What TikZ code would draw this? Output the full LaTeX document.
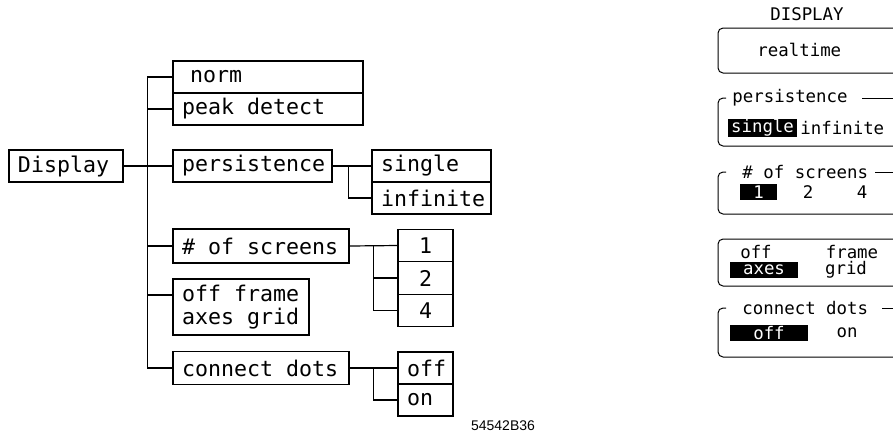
\documentclass[tikz,border=0pt]{standalone}
\usepackage{fontspec}
\newfontfamily\plotfont{DejaVu Sans Mono}[WordSpace={1,0,0}]
\newfontfamily\capfont{Liberation Sans}

\begin{document}
\begin{tikzpicture}[x=0.5pt,y=-0.5pt,
  box/.style={draw, line width=0.6pt, inner xsep=4.5pt, inner ysep=0pt, align=flush left, font=\plotfont\fontsize{10.8}{11.5}\selectfont},
  num/.style={box, align=center},
  wire/.style={line width=0.6pt},
  lbl/.style={inner sep=0pt, font=\plotfont\fontsize{8.7}{10}\selectfont},
  ttl/.style={lbl, inner xsep=3pt, anchor=west},
  hl/.style={lbl, fill=black, text=white, minimum height=8pt},
  frm/.style={line width=0.5pt, rounded corners=2.5pt}]

\clip (0,0) rectangle (893,435);

\node[box, text width=48pt, minimum height=16pt] (disp) at (66,166) {Display};
\node[box, text width=86pt, minimum height=16pt] (norm) at (268,77) {\hspace{4pt}norm};
\node[box, text width=86pt, minimum height=16pt] (peak) at (268,109) {peak detect};
\node[box, text width=70.5pt, minimum height=16pt] (pers) at (252.5,166) {persistence};
\node[box, text width=50.5pt, minimum height=16pt] (single) at (431.5,166) {single};
\node[box, text width=50.5pt, minimum height=16pt] (inf) at (431.5,198) {infinite};
\node[box, text width=79pt, minimum height=17pt] (scr) at (261,246) {\# of screens};
\node[num, text width=18.5pt, minimum height=16.25pt] (one) at (425.5,245.5) {1};
\node[num, text width=18.5pt, minimum height=16.25pt] (two) at (425.5,278) {2};
\node[num, text width=18.5pt, minimum height=16.25pt] (four) at (425.5,310.5) {4};
\node[box, text width=59pt, minimum height=28pt] (grid) at (241,307) {off frame\\axes grid};
\node[box, text width=79pt, minimum height=16.5pt] (dots) at (261,368) {connect dots};
\node[box, text width=18.5pt, minimum height=16pt] (off) at (425.5,368) {off};
\node[box, text width=18.5pt, minimum height=16pt] (on) at (425.5,400) {on};

\draw[wire] (disp.east) -- (pers.west);
\draw[wire] (norm.west) -- ++(-25,0) |- (dots.west);
\draw[wire] (peak.west) -- ++(-25,0);
\draw[wire] (scr.west) -- ++(-25,0);
\draw[wire] (grid.west) ++(0,-12) -- ++(-25,0);
\draw[wire] (pers.east) -- (single.west);
\draw[wire] (pers.east) ++(16,0) |- (inf.west);
\draw[wire] (scr.east) -- (one.west);
\draw[wire] (scr.east) ++(24,0) |- (two.west);
\draw[wire] (scr.east) ++(24,0) |- (four.west);
\draw[wire] (dots.east) -- (off.west);
\draw[wire] (dots.east) ++(24,0) |- (on.west);

\node[font=\capfont\fontsize{7}{8}\selectfont] (fig) at (503,426) {54542B36};

\node[lbl] (title) at (807,14) {DISPLAY};
\draw[frm] (718,28) rectangle (905,73);
\node[lbl, anchor=west] (rt) at (757,50) {realtime};

\node[ttl] (persT) at (726,98) {persistence};
\draw[frm] (726,98) -| (718,146) -- (905,146);
\draw[frm] (862,98) -- (905,98);
\node[hl, minimum width=34.5pt] (sglR) at (762.5,128) {single};
\node[lbl, anchor=west] (infR) at (800,128) {infinite};

\node[ttl] (scrT) at (736,172) {\# of screens};
\draw[frm] (726,172) -| (718,214) -- (905,214);
\draw[frm] (875,172) -- (905,172);
\node[hl, minimum width=18.5pt] (oneR) at (758.5,192) {1};
\node[lbl] (twoR) at (808,192) {2};
\node[lbl] (fourR) at (862,192) {4};

\draw[frm] (718,239) rectangle (905,286);
\node[lbl] (offR) at (756,252) {off};
\node[lbl] (frameR) at (852,252) {frame};
\node[hl, minimum width=34pt] (axesR) at (764,270) {axes};
\node[lbl] (gridR) at (846,270) {grid};

\node[ttl] (dotsT) at (736,308) {connect dots};
\draw[frm] (726,308) -| (718,357) -- (905,357);
\draw[frm] (882,308) -- (905,308);
\node[hl, minimum width=39pt] (offD) at (769,333) {off};
\node[lbl] (onD) at (847,333) {on};
\end{tikzpicture}
\end{document}
